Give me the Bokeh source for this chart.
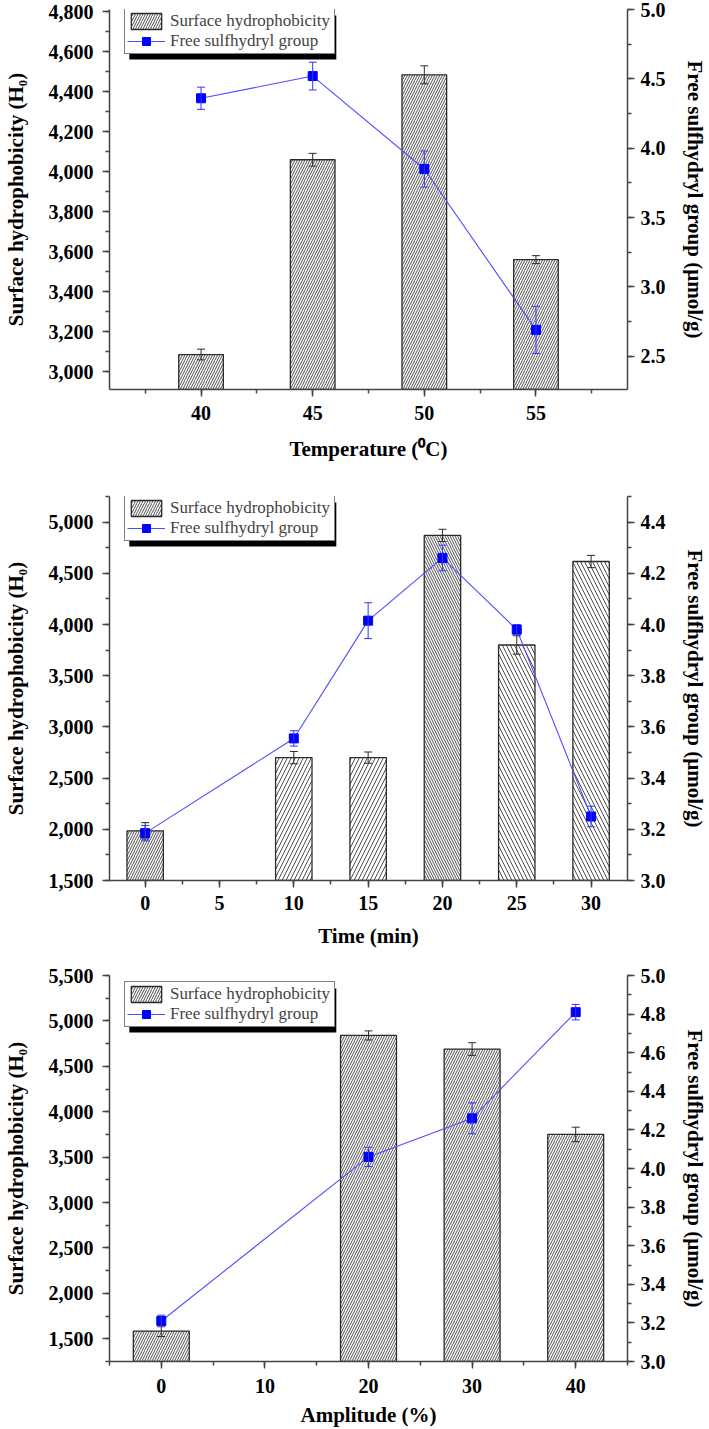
from bokeh.plotting import figure
from bokeh.models import (Range1d, LinearAxis, SingleIntervalTicker, NumeralTickFormatter,
                          ColumnDataSource, Whisker, TeeHead, Legend, LegendItem,
                          BoxAnnotation, Label)
from bokeh.layouts import column
from bokeh.embed import file_html
from bokeh.resources import INLINE

# ---------------- data ----------------
# (a) temperature
temp_c = [40, 45, 50, 55]
hydro_a = [3085, 4060, 4485, 3560]
hydro_a_err = [27, 32, 45, 20]
sulf_a = [4.36, 4.52, 3.85, 2.69]
sulf_a_err = [0.08, 0.10, 0.13, 0.17]

# (b) time
time_min = [0, 10, 15, 20, 25, 30]
hydro_b = [1985, 2700, 2700, 4870, 3800, 4615]
hydro_b_err = [80, 60, 55, 60, 90, 60]
sulf_b = [3.185, 3.555, 4.015, 4.26, 3.98, 3.25]
sulf_b_err = [0.03, 0.03, 0.07, 0.05, 0.02, 0.04]

# (c) amplitude
amp_pct = [0, 20, 30, 40]
hydro_c = [1585, 4840, 4690, 3750]
hydro_c_err = [60, 50, 70, 80]
sulf_c = [3.21, 4.06, 4.26, 4.81]
sulf_c_err = [0.03, 0.05, 0.08, 0.04]

LEFT_TITLE = "Surface hydrophobicity (H\u2080)"
RIGHT_TITLE = "Free sulfhydryl group (\u00b5mol/g)"
LEG_BAR = "Surface hydrophobicity"
LEG_LINE = "Free sulfhydryl group"

# ---------------- styling ----------------
SERIF = "Liberation Serif"
W = 709
BL, BR = 107, 79
FW = W - BL - BR
AX = "#444444"
LEG_LABEL_W = 162
LEG_PAD = 2
LEG_GLYPH_W = 38
LEG_STANDOFF = 5
LEG_ROW = 20
LEG_W = 2 * LEG_PAD + LEG_GLYPH_W + LEG_STANDOFF + LEG_LABEL_W
LEG_H = 2 * LEG_PAD + 2 * LEG_ROW
SHADOW = 5


def style_axis(ax, ticker, fmt, label, tick_standoff, label_standoff):
    ax.ticker = ticker
    ax.formatter = fmt
    ax.axis_label = label
    ax.axis_line_color = AX
    ax.axis_line_width = 1.5
    ax.major_tick_line_color = AX
    ax.major_tick_line_width = 1.5
    ax.minor_tick_line_color = AX
    ax.minor_tick_line_width = 1.5
    ax.major_tick_in = 0
    ax.major_tick_out = 7
    ax.minor_tick_in = 0
    ax.minor_tick_out = 4
    ax.major_label_text_font = SERIF
    ax.major_label_text_font_style = "bold"
    ax.major_label_text_font_size = "20px"
    ax.major_label_text_color = "black"
    ax.major_label_standoff = tick_standoff
    ax.axis_label_text_font = SERIF
    ax.axis_label_text_font_style = "bold"
    ax.axis_label_text_font_size = "21px"
    ax.axis_label_text_color = "black"
    ax.axis_label_standoff = label_standoff


def panel(letter, xs, bars, bars_err, sulf, sulf_err, xr, yl, yr,
          xint, ylint, yrint, bar_w, hatch, hscale, xlabel,
          page_top, h, bt, bb, leg_top, letter_y, xb_tick, xb_label):
    FH = h - bt - bb
    fb_page = page_top + h - bb  # frame bottom in page px

    def dx(off):
        return xr[0] + off / FW * (xr[1] - xr[0])

    def dy(off):
        return yl[0] + off / FH * (yl[1] - yl[0])

    p = figure(width=W, height=h, x_range=Range1d(*xr), y_range=Range1d(*yl),
               output_backend="svg", toolbar_location=None,
               min_border_left=BL, min_border_right=BR,
               min_border_top=bt, min_border_bottom=bb)
    p.extra_y_ranges = {"r": Range1d(*yr)}
    p.xgrid.visible = False
    p.ygrid.visible = False
    p.outline_line_color = None

    bsrc = ColumnDataSource(dict(
        x=xs, top=bars,
        up=[b + e for b, e in zip(bars, bars_err)],
        lo=[b - e for b, e in zip(bars, bars_err)],
        hatch=hatch, hs=hscale))
    bar_r = p.vbar(x="x", top="top", bottom=yl[0], width=bar_w, source=bsrc,
                   fill_color="white", line_color="#2b2b2b", line_width=1.3,
                   hatch_pattern="hatch", hatch_scale="hs",
                   hatch_color="#3a3a3a", hatch_weight=0.9)

    lsrc = ColumnDataSource(dict(
        x=xs, y=sulf,
        up=[v + e for v, e in zip(sulf, sulf_err)],
        lo=[v - e for v, e in zip(sulf, sulf_err)]))
    line_r = p.line("x", "y", source=lsrc, y_range_name="r",
                    line_color="#4d4dff", line_width=1.1)
    sc_r = p.scatter("x", "y", source=lsrc, y_range_name="r", marker="square",
                     size=9, fill_color="#0000ff", line_color="#0000ff")

    p.add_layout(Whisker(source=bsrc, base="x", upper="up", lower="lo", level="overlay",
                         line_color="#2b2b2b", line_width=1,
                         upper_head=TeeHead(size=8, line_color="#2b2b2b", line_width=1),
                         lower_head=TeeHead(size=8, line_color="#2b2b2b", line_width=1)))
    p.add_layout(Whisker(source=lsrc, base="x", upper="up", lower="lo", level="overlay",
                         y_range_name="r", line_color="#3333ff", line_width=1,
                         upper_head=TeeHead(size=8, line_color="#3333ff", line_width=1),
                         lower_head=TeeHead(size=8, line_color="#3333ff", line_width=1)))

    style_axis(p.xaxis[0], SingleIntervalTicker(interval=xint, num_minor_ticks=2),
               NumeralTickFormatter(format="0"), xlabel, xb_tick, xb_label)
    style_axis(p.yaxis[0], SingleIntervalTicker(interval=ylint, num_minor_ticks=2),
               NumeralTickFormatter(format="0,0"), LEFT_TITLE, 9, 18)
    ra = LinearAxis(y_range_name="r")
    style_axis(ra, SingleIntervalTicker(interval=yrint, num_minor_ticks=2),
               NumeralTickFormatter(format="0.0"), RIGHT_TITLE, 6, 14)
    p.add_layout(ra, "right")

    # legend with drop shadow
    lx = 15
    ly = fb_page - (leg_top + LEG_H)
    p.add_layout(BoxAnnotation(left=dx(lx + SHADOW), right=dx(lx + LEG_W + SHADOW),
                               top=dy(ly + LEG_H - SHADOW), bottom=dy(ly - SHADOW),
                               fill_color="black", fill_alpha=1, line_color=None,
                               level="overlay"))
    leg = Legend(items=[LegendItem(label=LEG_BAR, renderers=[bar_r], index=0),
                        LegendItem(label=LEG_LINE, renderers=[line_r, sc_r])],
                 location=(lx, ly), orientation="vertical", level="overlay",
                 padding=LEG_PAD, margin=0, spacing=0,
                 glyph_width=LEG_GLYPH_W, glyph_height=LEG_ROW,
                 label_height=LEG_ROW, label_width=LEG_LABEL_W,
                 label_standoff=LEG_STANDOFF,
                 label_text_font=SERIF, label_text_font_size="17px",
                 border_line_color="black", border_line_width=1.2,
                 background_fill_color="white", background_fill_alpha=1)
    p.add_layout(leg)

    p.add_layout(Label(x=dx(3 - BL), y=dy(fb_page - letter_y), text=letter,
                       text_font="Liberation Sans", text_font_style="bold",
                       text_font_size="21px", text_baseline="middle", text_align="left"))
    return p


pa = panel("(a)", temp_c, hydro_a, hydro_a_err, sulf_a, sulf_a_err,
           (35.9, 59.1), (2910, 4812), (2.26, 5.0), 5, 200, 0.5, 2.0,
           ["/"] * 4, [5] * 4, "Temperature (\u2070C)",
           page_top=0, h=470, bt=9, bb=81, leg_top=10, letter_y=13,
           xb_tick=9, xb_label=14)
pb = panel("(b)", time_min, hydro_b, hydro_b_err, sulf_b, sulf_b_err,
           (-2.4, 32.45), (1500, 5250), (3.0, 4.5), 5, 500, 0.2, 2.45,
           ["/", "/", "/", "\\", "\\", "\\"], [5, 8, 8, 5, 8, 8], "Time (min)",
           page_top=470, h=480, bt=26, bb=70, leg_top=497, letter_y=498,
           xb_tick=8, xb_label=11)
pc = panel("(c)", amp_pct, hydro_c, hydro_c_err, sulf_c, sulf_c_err,
           (-5, 45), (1250, 5500), (3.0, 5.0), 10, 500, 0.2, 5.4,
           ["/"] * 4, [5] * 4, "Amplitude (%)",
           page_top=950, h=479, bt=25, bb=68, leg_top=983, letter_y=977,
           xb_tick=10, xb_label=7)

layout = column(pa, pb, pc, spacing=0)
open("out.html", "w").write(file_html(layout, INLINE))
